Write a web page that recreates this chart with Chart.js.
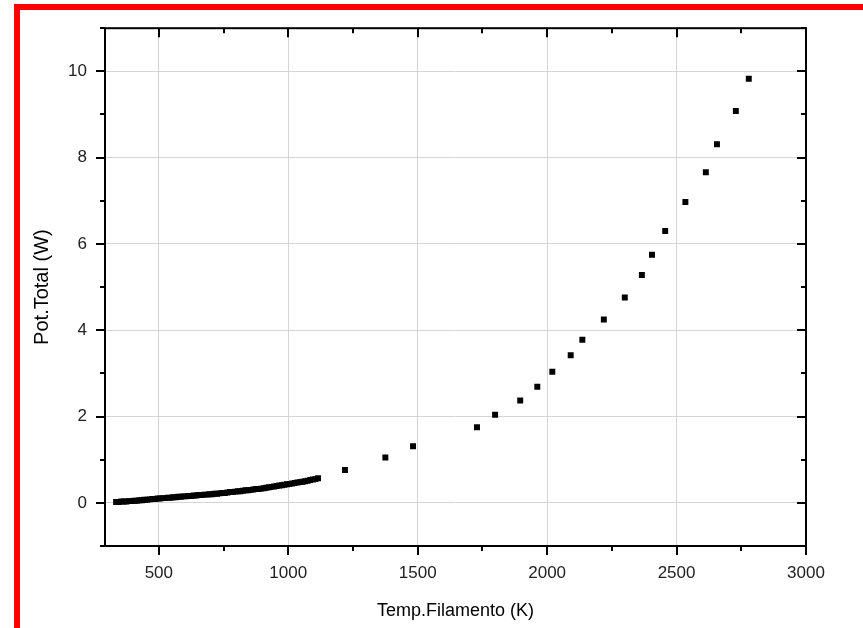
<!DOCTYPE html>
<html>
<head>
<meta charset="utf-8">
<title>Pot.Total vs Temp.Filamento</title>
<script src="https://cdn.jsdelivr.net/npm/chart.js@4.4.1/dist/chart.umd.min.js"></script>
<style>
  html, body { margin: 0; padding: 0; background: #fff; }
  canvas { display: block; }
</style>
</head>
<body>
<canvas id="chart" width="863" height="628"></canvas>
<script>
// filament temperature (K) and total power (W)
const tempK = [
  335, 345, 355, 365, 375, 385, 395, 405, 415, 425,
  435, 445, 455, 465, 475, 485, 495, 505, 515, 525,
  535, 545, 555, 565, 575, 585, 595, 605, 615, 625,
  635, 645, 655, 665, 675, 685, 695, 705, 715, 725,
  735, 745, 755, 765, 775, 785, 795, 805, 815, 825,
  835, 845, 855, 865, 875, 885, 895, 905, 915, 925,
  935, 945, 955, 965, 975, 985, 995, 1005, 1015, 1025,
  1035, 1045, 1055, 1065, 1075, 1085, 1095, 1105, 1115,
  1219, 1375, 1482, 1729, 1799, 1896, 1962, 2020, 2091, 2136,
  2219, 2300, 2366, 2405, 2456, 2534, 2613, 2656, 2729, 2779
];
const potW = [
  0.02, 0.02, 0.03, 0.03, 0.03, 0.04, 0.04, 0.05, 0.05, 0.06,
  0.06, 0.07, 0.07, 0.08, 0.09, 0.09, 0.10, 0.10, 0.11, 0.11,
  0.12, 0.12, 0.13, 0.13, 0.14, 0.14, 0.15, 0.15, 0.16, 0.16,
  0.17, 0.17, 0.18, 0.18, 0.19, 0.19, 0.20, 0.20, 0.21, 0.21,
  0.22, 0.23, 0.23, 0.24, 0.25, 0.25, 0.26, 0.27, 0.27, 0.28,
  0.29, 0.29, 0.30, 0.31, 0.32, 0.32, 0.33, 0.34, 0.35, 0.36,
  0.37, 0.38, 0.39, 0.40, 0.41, 0.42, 0.43, 0.44, 0.45, 0.46,
  0.47, 0.48, 0.49, 0.50, 0.51, 0.53, 0.54, 0.55, 0.57,
  0.76, 1.05, 1.31, 1.75, 2.04, 2.37, 2.69, 3.04, 3.42, 3.78,
  4.25, 4.76, 5.28, 5.75, 6.30, 6.97, 7.66, 8.31, 9.08, 9.83
];

const xTicks = [500, 1000, 1500, 2000, 2500, 3000];
const yTicks = [0, 2, 4, 6, 8, 10];
const xMinor = [750, 1250, 1750, 2250, 2750];
const yMinor = [-1, 1, 3, 5, 7, 9, 11];

const points = tempK.map((t, i) => ({ x: t, y: potW[i] }));

// frame, tick marks and the red page border
const framePlugin = {
  id: 'frame',
  beforeDraw(chart) {
    const ctx = chart.ctx;
    ctx.save();
    ctx.fillStyle = '#ff0000';
    ctx.fillRect(14, 4, chart.width - 14, 6);
    ctx.fillRect(14, 4, 6, chart.height - 4);
    ctx.restore();
  },
  afterDraw(chart) {
    const ctx = chart.ctx;
    const a = chart.chartArea;
    const xs = chart.scales.x, ys = chart.scales.y;
    const major = 9, minor = 5;
    ctx.save();
    ctx.strokeStyle = '#000';
    ctx.lineWidth = 2;
    ctx.strokeRect(a.left, a.top, a.right - a.left, a.bottom - a.top);
    ctx.beginPath();
    const tickX = (v, len) => {
      const px = Math.round(xs.getPixelForValue(v));
      ctx.moveTo(px, a.bottom); ctx.lineTo(px, a.bottom + len);
      ctx.moveTo(px, a.top); ctx.lineTo(px, a.top + len);
    };
    const tickY = (v, len) => {
      const py = Math.round(ys.getPixelForValue(v));
      ctx.moveTo(a.left, py); ctx.lineTo(a.left - len, py);
      ctx.moveTo(a.right, py); ctx.lineTo(a.right - len, py);
    };
    xTicks.forEach(v => tickX(v, major));
    xMinor.forEach(v => tickX(v, minor));
    yTicks.forEach(v => tickY(v, major));
    yMinor.forEach(v => tickY(v, minor));
    ctx.stroke();
    ctx.restore();
  }
};

const tickFont = { family: 'Arial, "Liberation Sans", sans-serif', size: 17 };
const titleFont = { family: 'Arial, "Liberation Sans", sans-serif', size: 18 };
const yTitleFont = { family: 'Arial, "Liberation Sans", sans-serif', size: 20 };

new Chart(document.getElementById('chart'), {
  type: 'scatter',
  data: {
    datasets: [{
      data: points,
      pointStyle: 'rect',
      pointRadius: 4.2,
      pointHoverRadius: 4.2,
      backgroundColor: '#000',
      borderWidth: 0
    }]
  },
  options: {
    responsive: false,
    animation: false,
    layout: { padding: { top: 27, right: 57, left: 0, bottom: 0 } },
    plugins: {
      legend: { display: false },
      tooltip: { enabled: false }
    },
    scales: {
      x: {
        type: 'linear',
        min: 292,
        max: 3000,
        afterBuildTicks: s => { s.ticks = xTicks.map(v => ({ value: v })); },
        afterFit: s => { s.height = 82; },
        grid: { color: '#d4d4d4', lineWidth: 1, drawTicks: false },
        border: { display: false },
        ticks: { padding: 17, font: tickFont, color: '#222', maxRotation: 0, callback: v => String(v) },
        title: { display: true, text: 'Temp.Filamento (K)', font: titleFont, color: '#000', padding: { top: 0, bottom: 6 } }
      },
      y: {
        type: 'linear',
        min: -1,
        max: 11,
        afterBuildTicks: s => { s.ticks = yTicks.map(v => ({ value: v })); },
        afterFit: s => { s.width = 105; },
        grid: { color: '#d4d4d4', lineWidth: 1, drawTicks: false },
        border: { display: false },
        ticks: { padding: 18, font: tickFont, color: '#222', callback: v => String(v) },
        title: { display: true, text: 'Pot.Total (W)', font: yTitleFont, color: '#000', padding: { top: 30, bottom: 0 } }
      }
    }
  },
  plugins: [framePlugin]
});
</script>
</body>
</html>
